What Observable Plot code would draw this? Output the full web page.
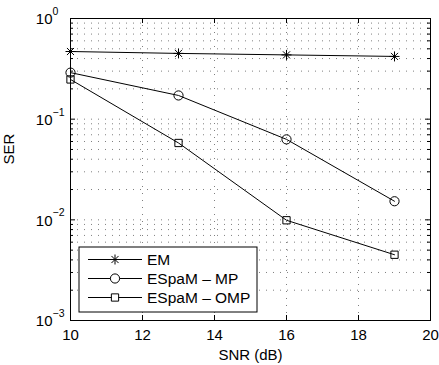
<!DOCTYPE html>
<html><head><meta charset="utf-8">
<script src="https://cdn.jsdelivr.net/npm/d3@7"></script>
<script src="https://cdn.jsdelivr.net/npm/@observablehq/plot@0.6"></script>
<style>
body{margin:0;background:#fff}
#chart{position:relative;width:439px;height:365px}
</style>
</head><body><div id="chart"></div>
<script>
// ---- data ----
const snr = [10, 13, 16, 19];
const serEM = [0.47, 0.45, 0.435, 0.42];
const serMP = [0.29, 0.172, 0.063, 0.0153];
const serOMP = [0.248, 0.058, 0.0099, 0.0045];
const seriesNames = ["EM", "ESpaM – MP", "ESpaM – OMP"];
const xTicks = [10, 12, 14, 16, 18, 20];
const yDecades = [1e-3, 1e-2, 1e-1, 1e0];
const yExponents = ["−3", "−2", "−1", "0"];
const minorMultipliers = [2, 3, 4, 5, 6, 7, 8, 9];

// ---- layout ----
const W = 439, H = 365, mL = 70, mR = 9, mT = 18, mB = 45;
const pw = W - mL - mR, ph = H - mT - mB;
const font = "'Liberation Sans', Arial, Helvetica, sans-serif";

// custom MATLAB-like asterisk (+ and x)
const asterisk = {
  draw(ctx, size) {
    const r = Math.sqrt(size / Math.PI), d = r * Math.SQRT1_2;
    ctx.moveTo(-r, 0); ctx.lineTo(r, 0);
    ctx.moveTo(0, -r); ctx.lineTo(0, r);
    ctx.moveTo(-d, -d); ctx.lineTo(d, d);
    ctx.moveTo(-d, d); ctx.lineTo(d, -d);
  }
};
const seriesValues = [serEM, serMP, serOMP];
const seriesSymbols = [asterisk, d3.symbolCircle, d3.symbolSquare];
const seriesR = [5, 4.6, 4.1];

const data = seriesNames.flatMap((name, i) =>
  snr.map((x, j) => ({name, x, y: seriesValues[i][j]})));

const yMinor = yDecades.slice(0, -1).flatMap(d => minorMultipliers.map(m => m * d));
const yGrid = yDecades.concat(yMinor).filter(v => v > 1e-3 && v < 1);
const xGrid = xTicks.filter(v => v > 10 && v < 20);

const gridStyle = {stroke: "#000", strokeOpacity: 0.5, strokeDasharray: "1,6"};

const plot = Plot.plot({
  width: W, height: H,
  marginLeft: mL, marginRight: mR, marginTop: mT, marginBottom: mB,
  style: {fontFamily: font, fontSize: "15px", background: "#fff", color: "#000", overflow: "visible"},
  x: {domain: [10, 20], axis: null},
  y: {type: "log", domain: [1e-3, 1], axis: null},
  marks: [
    Plot.ruleX(xGrid, {x: d => d, ...gridStyle}),
    Plot.ruleY(yGrid, {y: d => d, ...gridStyle}),
    Plot.line(data, {x: "x", y: "y", z: "name", stroke: "#000", strokeWidth: 1}),
    ...seriesNames.map((name, i) =>
      Plot.dot(data.filter(d => d.name === name), {
        x: "x", y: "y", symbol: seriesSymbols[i], r: seriesR[i],
        stroke: "#000", fill: "none", strokeWidth: 1
      })),
    Plot.frame({stroke: "#000", strokeWidth: 1}),
    // inward ticks
    Plot.tickX(xTicks, {x: d => d, insetTop: ph - 5, stroke: "#000"}),
    Plot.tickX(xTicks, {x: d => d, insetBottom: ph - 5, stroke: "#000"}),
    Plot.tickY(yDecades, {y: d => d, insetRight: pw - 5, stroke: "#000"}),
    Plot.tickY(yDecades, {y: d => d, insetLeft: pw - 5, stroke: "#000"}),
    Plot.tickY(yMinor, {y: d => d, insetRight: pw - 3, stroke: "#000"}),
    Plot.tickY(yMinor, {y: d => d, insetLeft: pw - 3, stroke: "#000"}),
    // tick labels
    Plot.text(xTicks, {x: d => d, frameAnchor: "bottom", lineAnchor: "top", dy: 9,
      text: d => String(d), fontSize: 15, fill: "#000"}),
    Plot.text(yDecades, {y: d => d, frameAnchor: "left", textAnchor: "end", dx: -18, dy: 1,
      text: () => "10", fontSize: 15, fill: "#000"}),
    Plot.text(yDecades, {y: d => d, frameAnchor: "left", textAnchor: "start", dx: -18, dy: -7,
      text: (d, i) => yExponents[i], fontSize: 10.5, fill: "#000"}),
    // axis labels
    Plot.text(["SNR (dB)"], {frameAnchor: "bottom", lineAnchor: "bottom", dy: 39,
      text: d => d, fontSize: 15, fill: "#000"}),
    Plot.text(["SER"], {frameAnchor: "left", rotate: -90, dx: -61, dy: -5,
      text: d => d, fontSize: 15, fill: "#000"})
  ]
});
document.getElementById("chart").appendChild(plot);

// ---- legend (inside the axes, lower-left) ----
const svg = d3.select(plot);
const lg = svg.append("g").attr("font-family", font).attr("font-size", 15.5)
  .attr("text-anchor", "start");
const box = {x: 79, y: 247, w: 178, h: 65};
lg.append("rect").attr("x", box.x).attr("y", box.y).attr("width", box.w).attr("height", box.h)
  .attr("fill", "#fff").attr("stroke", "#000").attr("stroke-width", 1);
seriesNames.forEach((name, i) => {
  const cy = 259.5 + i * 19;
  lg.append("line").attr("x1", 88).attr("x2", 142).attr("y1", cy).attr("y2", cy)
    .attr("stroke", "#000").attr("stroke-width", 1);
  lg.append("path").attr("transform", `translate(115,${cy})`)
    .attr("d", d3.symbol(seriesSymbols[i], Math.PI * seriesR[i] * seriesR[i])())
    .attr("fill", "#fff").attr("stroke", "#000").attr("stroke-width", 1);
  lg.append("text").attr("x", 147).attr("y", cy).attr("dy", "0.35em").attr("fill", "#000")
    .attr("text-anchor", "start").text(name);
});
</script>
</body></html>
